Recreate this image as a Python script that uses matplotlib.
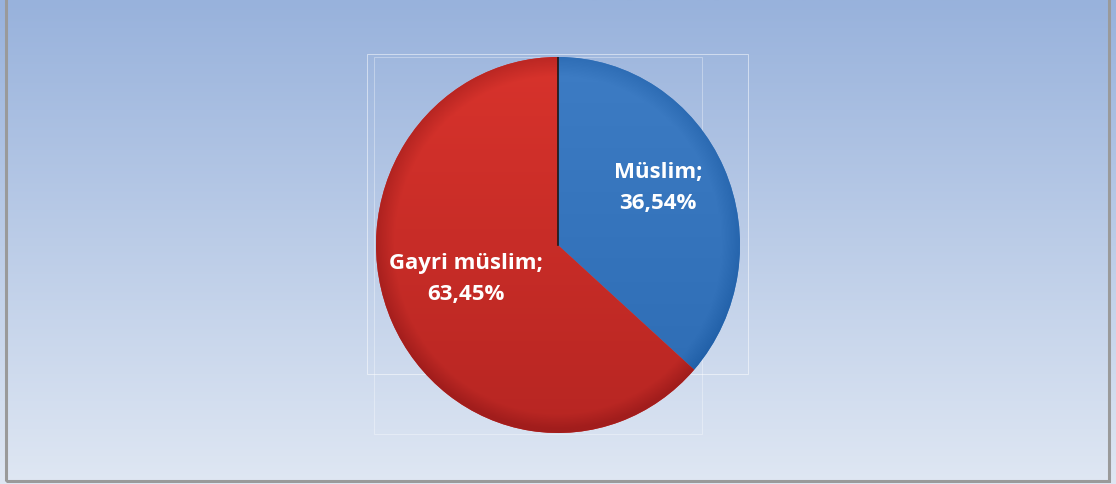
import numpy as np
import matplotlib
matplotlib.use("Agg")
import matplotlib.pyplot as plt
from matplotlib.colors import LinearSegmentedColormap
from matplotlib.patches import Rectangle

# data
labels = ["Müslim", "Gayri müslim"]
values = [36.54, 63.45]
value_text = ["36,54%", "63,45%"]
colors = ["#3d7cc4", "#d8332c"]
dark_colors = ["#2160a8", "#a11d1c"]

plt.rcParams['font.family'] = ['Open Sans', 'DejaVu Sans']

fig = plt.figure(figsize=(11.16, 4.84), dpi=100)

# background gradient
bg = fig.add_axes([0, 0, 1, 1])
bg.set_axis_off()
grad = np.linspace(0, 1, 256).reshape(-1, 1)
bg_cmap = LinearSegmentedColormap.from_list("bg", ["#98b2dc", "#dfe7f3"])
bg.imshow(grad, aspect="auto", cmap=bg_cmap, extent=[0, 1, 0, 1], origin="upper")
bg.set_xlim(0, 1)
bg.set_ylim(0, 1)
# frame
bg.add_patch(Rectangle((5.5 / 1116, 3.5 / 484), 1103.5 / 1116, 490 / 484,
                       fill=False, edgecolor="#9a9a9a", linewidth=2.2))
# faint plot area lines
bg.add_patch(Rectangle((367 / 1116, 1 - 374 / 484), 381 / 1116, 320 / 484,
                       fill=False, edgecolor="white", linewidth=0.6, alpha=0.6))
bg.add_patch(Rectangle((374 / 1116, 1 - 434 / 484), 328 / 1116, 377 / 484,
                       fill=False, edgecolor="white", linewidth=0.6, alpha=0.4))

# pie axes: center ~(558,245), rx 182, ry 188
cx, cy, rx, ry = 558, 245, 182, 188
ax = fig.add_axes([(cx - rx) / 1116, 1 - (cy + ry) / 484, 2 * rx / 1116, 2 * ry / 484])
ax.set_axis_off()

wedges, _ = ax.pie(values, startangle=90, counterclock=False, colors=colors,
                   radius=1, wedgeprops=dict(edgecolor="none"))
ax.set_aspect("auto")
ax.set_xlim(-1, 1)
ax.set_ylim(-1, 1)

# shading gradients clipped to each wedge (light top, darker bottom and rim)
yy, xx = np.mgrid[-1:1:300j, -1:1:300j]
rr = np.sqrt(xx ** 2 + yy ** 2)
shade = np.clip(0.6 * (1 - yy) / 2 + 0.5 * np.clip((rr - 0.9) / 0.1, 0, 1), 0, 1)
for w, c1, c2 in zip(wedges, colors, dark_colors):
    cm = LinearSegmentedColormap.from_list("s", [c1, c2])
    im = ax.imshow(shade, cmap=cm, extent=[-1, 1, -1, 1], origin="lower",
                   vmin=0, vmax=1, zorder=2, aspect="auto")
    im.set_clip_path(w)
ax.plot([0, 0], [0, 1], color="#1a1a1a", linewidth=1.2, zorder=3)

# labels
ax.text((658 - cx) / rx, -(188 - cy) / ry, labels[0] + ";\n" + value_text[0],
        ha="center", va="center", color="white", fontsize=16, fontweight="bold",
        linespacing=1.6, zorder=4)
ax.text((466 - cx) / rx, -(279 - cy) / ry, labels[1] + ";\n" + value_text[1],
        ha="center", va="center", color="white", fontsize=16, fontweight="bold",
        linespacing=1.6, zorder=4)

fig.savefig("out.png", dpi=100)
